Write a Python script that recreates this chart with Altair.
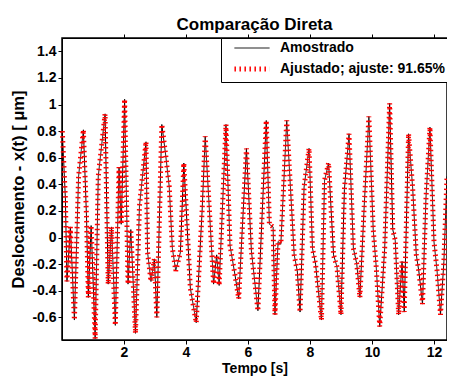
import altair as alt
import pandas as pd

# ---- data ----
t_vals = [0.01, 0.11, 0.16, 0.27, 0.40, 0.535, 0.69, 0.79, 0.85, 0.94, 1.07, 1.17, 1.39, 1.49,
          1.60, 1.72, 1.84, 1.91, 2.02, 2.13, 2.22, 2.37, 2.50, 2.71, 2.76, 2.87, 2.98, 3.06,
          3.22, 3.35, 3.46, 3.56, 3.67, 3.82, 3.93, 4.14, 4.33, 4.52, 4.62, 4.89, 4.99, 5.07,
          5.29, 5.42, 5.58, 5.70, 5.95, 6.11, 6.32, 6.59, 6.69, 6.81, 6.87, 6.97, 7.06, 7.25,
          7.49, 7.59, 7.68, 7.81, 7.97, 8.08, 8.18, 8.37, 8.47, 8.60, 8.76, 8.87, 9.00, 9.11,
          9.26, 9.40, 9.51, 9.61, 9.75, 9.90, 10.04, 10.14, 10.25, 10.41, 10.57, 10.67, 10.75,
          10.86, 10.97, 11.04, 11.18, 11.31, 11.43, 11.51, 11.63, 11.74, 11.87, 12.00, 12.10,
          12.21, 12.32, 12.42]

y_amostrado = [0.80, 0.29, -0.33, 0.08, -0.62, 0.46, 0.81, 0.16, -0.45, 0.09, -0.76, 0.46, 0.93, -0.35,
               0.08, -0.66, 0.53, 0.10, 1.04, -0.35, 0.06, -0.72, 0.24, 0.72, -0.11, -0.33, -0.16, -0.60,
               0.85, 0.61, 0.38, -0.08, -0.25, -0.11, 0.56, -0.38, -0.64, 0.20, 0.76, -0.35, -0.13, -0.36,
               0.85, -0.06, -0.28, -0.46, 0.67, -0.10, -0.55, 0.88, 0.10, 0.08, -0.58, -0.03, -0.05, 0.88,
               -0.13, -0.25, -0.56, 0.38, 0.67, -0.08, -0.20, -0.62, 0.43, 0.56, -0.13, -0.22, -0.58, 0.36,
               0.78, -0.08, -0.20, -0.45, 0.24, 0.91, 0.06, -0.23, -0.67, -0.08, 1.01, 0.06, -0.02,
               -0.58, -0.18, -0.56, 0.78, 0.38, -0.13, -0.25, -0.50, 0.29, 0.83, -0.03, -0.25,
               -0.58, -0.18, 0.46]

y_ajustado = [0.80, 0.29, -0.33, 0.08, -0.62, 0.46, 0.81, 0.16, -0.45, 0.09, -0.76, 0.46, 0.93, -0.35,
              0.08, -0.66, 0.53, 0.10, 1.04, -0.35, 0.06, -0.72, 0.24, 0.72, -0.11, -0.33, -0.16, -0.60,
              0.85, 0.61, 0.38, -0.08, -0.25, -0.11, 0.56, -0.38, -0.64, 0.20, 0.76, -0.35, -0.13, -0.36,
              0.85, -0.06, -0.28, -0.46, 0.67, -0.10, -0.55, 0.88, 0.10, 0.08, -0.58, -0.03, -0.05, 0.88,
              -0.13, -0.25, -0.56, 0.38, 0.67, -0.08, -0.20, -0.62, 0.43, 0.56, -0.13, -0.22, -0.58, 0.36,
              0.78, -0.08, -0.20, -0.45, 0.24, 0.91, 0.06, -0.23, -0.67, -0.08, 1.01, 0.06, -0.02,
              -0.58, -0.18, -0.56, 0.78, 0.38, -0.13, -0.25, -0.50, 0.29, 0.83, -0.03, -0.25,
              -0.58, -0.18, 0.46]

series_names = ["Amostrado", "Ajustado; ajuste: 91.65%"]
x_ticks = [2, 4, 6, 8, 10, 12]
y_ticks = [-0.6, -0.4, -0.2, 0, 0.2, 0.4, 0.6, 0.8, 1.0, 1.2, 1.4]

df = pd.concat([
    pd.DataFrame({"t": t_vals, "y": y_amostrado, "series": series_names[0]}),
    pd.DataFrame({"t": t_vals, "y": y_ajustado, "series": series_names[1]}),
], ignore_index=True)

FONT = "Liberation Sans"
W, H = 385, 302

xscale = alt.Scale(domain=[0, 12.42], nice=False, zero=False)
yscale = alt.Scale(domain=[-0.77, 1.5], nice=False, zero=False)

legend = alt.Legend(
    title=None, orient="none", legendX=W - 226, legendY=0,
    fillColor="white", strokeColor="black", padding=3, cornerRadius=0,
    symbolType="M-3.9,0H3.9", symbolSize=81, symbolOffset=21, labelOffset=21, rowPadding=4,
    labelFont=FONT, labelFontSize=14, labelFontWeight="bold", labelColor="black",
    labelLimit=300,
)

color_enc = alt.Color("series:N", scale=alt.Scale(domain=series_names, range=["black", "red"]), legend=legend)
dash_enc = alt.StrokeDash("series:N", scale=alt.Scale(domain=series_names, range=[[1, 0], [1.5, 3.5]]), legend=legend)
sw_enc = alt.StrokeWidth("series:N", scale=alt.Scale(domain=series_names, range=[1, 5]), legend=legend)

common_axis = dict(grid=False, tickSize=4, tickColor="black", tickWidth=1,
                   domain=True, domainColor="black", domainWidth=1,
                   labelFont=FONT, labelFontSize=14, labelFontWeight="bold", labelColor="black",
                   titleFont=FONT, titleFontSize=14, titleFontWeight="bold", titleColor="black")

x_bottom = alt.Axis(orient="bottom", values=x_ticks, labelPadding=1, title="Tempo [s]", titlePadding=2,
                    **common_axis)
x_top = alt.Axis(orient="top", values=x_ticks, labels=False, title=None, **common_axis)
y_axis_opts = dict(common_axis)
y_axis_opts["titleFontSize"] = 16.5
y_left = alt.Axis(orient="left", values=y_ticks, labelPadding=2,
                  labelExpr="'' + round(datum.value * 10) / 10",
                  title="Deslocamento - x(t) [ μm]", titlePadding=5, **y_axis_opts)
y_right = alt.Axis(orient="right", values=y_ticks, labels=False, title=None, **common_axis)

base = alt.Chart(df)

# axes box (MATLAB style frame around the plot area)
frame = alt.Chart(pd.DataFrame({"box": [0]})).mark_rect(
    fill="transparent", stroke="#000000", strokeWidth=1.5
).encode(
    x=alt.value(0), x2=alt.value(W), y=alt.value(0), y2=alt.value(H),
)

black = base.transform_filter(alt.datum.series == series_names[0]).mark_line().encode(
    x=alt.X("t:Q", scale=xscale, axis=x_bottom),
    y=alt.Y("y:Q", scale=yscale, axis=y_left),
    color=color_enc, strokeDash=dash_enc, strokeWidth=sw_enc,
)

red = base.transform_filter(alt.datum.series == series_names[1]).mark_line(strokeCap="butt").encode(
    x=alt.X("t:Q", scale=xscale, axis=x_top),
    y=alt.Y("y:Q", scale=yscale, axis=y_right),
    color=color_enc, strokeDash=dash_enc, strokeWidth=sw_enc,
)

chart = alt.layer(frame, black, red).resolve_axis(x="independent", y="independent").properties(
    width=W, height=H,
    autosize=alt.AutoSizeParams(type="none"),
    padding={"left": 54, "top": 30, "right": 0, "bottom": 37},
    title=alt.TitleParams("Comparação Direta", font=FONT, fontSize=17, fontWeight="bold",
                          color="black", anchor="middle", baseline="alphabetic", offset=-13),
).configure_view(stroke="black", strokeWidth=1)

chart.save("out.html", embed_options={"renderer": "svg", "actions": False})
